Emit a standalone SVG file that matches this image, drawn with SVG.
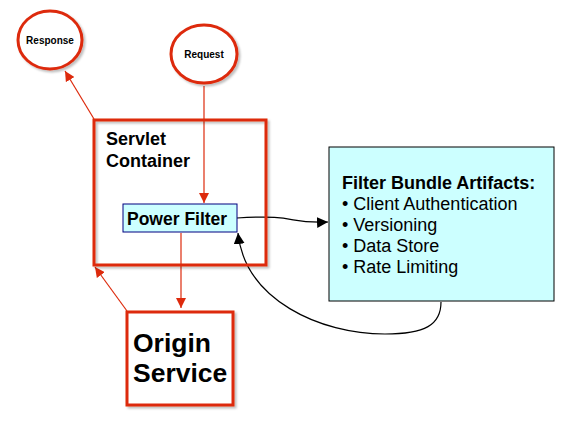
<svg xmlns="http://www.w3.org/2000/svg" width="573" height="436" viewBox="0 0 573 436">
<style>
.red{fill:#fff;stroke:#dd2a0c;stroke-width:3}
.cyan{fill:#ccffff}
.t{font-family:"Liberation Sans",Arial,sans-serif;font-weight:bold;fill:#000}
.n{font-family:"Liberation Sans",Arial,sans-serif;fill:#000}
.rl{fill:none;stroke:#dd2a0c;stroke-width:1.2}
.bl{fill:none;stroke:#000;stroke-width:1.2}
</style>
<defs>
<filter id="sh" x="-10%" y="-10%" width="130%" height="130%">
<feDropShadow dx="2" dy="2" stdDeviation="1" flood-color="#000" flood-opacity="0.25"/>
</filter>
<marker id="ar" viewBox="0 0 10 10" refX="10" refY="5" markerWidth="10" markerHeight="10" markerUnits="userSpaceOnUse" orient="auto">
<path d="M0,0 L10,5 L0,10 z" fill="#dd2a0c"/>
</marker>
<marker id="ab" viewBox="0 0 10 10" refX="10" refY="5" markerWidth="11" markerHeight="11" markerUnits="userSpaceOnUse" orient="auto">
<path d="M0,0 L10,5 L0,10 z" fill="#000"/>
</marker>
</defs>
<rect width="573" height="436" fill="#fff"/>
<g id="connectors">
<line class="rl" x1="204" y1="86" x2="204" y2="203" marker-end="url(#ar)"/>
<line class="rl" x1="94" y1="119" x2="65" y2="71" marker-end="url(#ar)"/>
<line class="rl" x1="181" y1="233" x2="181" y2="308" marker-end="url(#ar)"/>
<line class="rl" x1="127" y1="311" x2="95" y2="267" marker-end="url(#ar)"/>
<path class="bl" d="M237,218 C300,214 285,224 328,222" marker-end="url(#ab)"/>
<path class="bl" d="M441,302 C441,325 425,334 385,334 C320,334 245,300 238,233" marker-end="url(#ab)"/>
</g>
<g id="response">
<ellipse class="red" cx="50" cy="40" rx="32" ry="29" filter="url(#sh)"/>
<text class="t" x="50" y="44" font-size="10" text-anchor="middle">Response</text>
</g>
<g id="request">
<ellipse class="red" cx="204" cy="54" rx="33" ry="29" filter="url(#sh)"/>
<text class="t" x="204" y="58" font-size="10" text-anchor="middle">Request</text>
</g>
<g id="servlet-container">
<rect class="red" x="94" y="120" width="172" height="145" filter="url(#sh)" style="fill:none"/>
<text class="t" x="106" y="145" font-size="18">Servlet</text>
<text class="t" x="106" y="167" font-size="18">Container</text>
</g>
<g id="power-filter">
<rect class="cyan" x="123" y="204" width="114" height="28" stroke="#000080" stroke-width="1"/>
<text class="t" x="127" y="225" font-size="17.5">Power Filter</text>
</g>
<g id="origin-service">
<rect class="red" x="127" y="312" width="106" height="93" filter="url(#sh)"/>
<text class="t" x="133" y="352" font-size="26.5">Origin</text>
<text class="t" x="133" y="382" font-size="26.5">Service</text>
</g>
<g id="filter-bundle">
<rect class="cyan" x="329" y="147" width="225" height="154" stroke="#000" stroke-width="1"/>
<text class="t" x="342" y="189" font-size="18">Filter Bundle Artifacts:</text>
<text class="n" x="342" y="210" font-size="18">• Client Authentication</text>
<text class="n" x="342" y="231" font-size="18">• Versioning</text>
<text class="n" x="342" y="252" font-size="18">• Data Store</text>
<text class="n" x="342" y="273" font-size="18">• Rate Limiting</text>
</g>
</svg>
